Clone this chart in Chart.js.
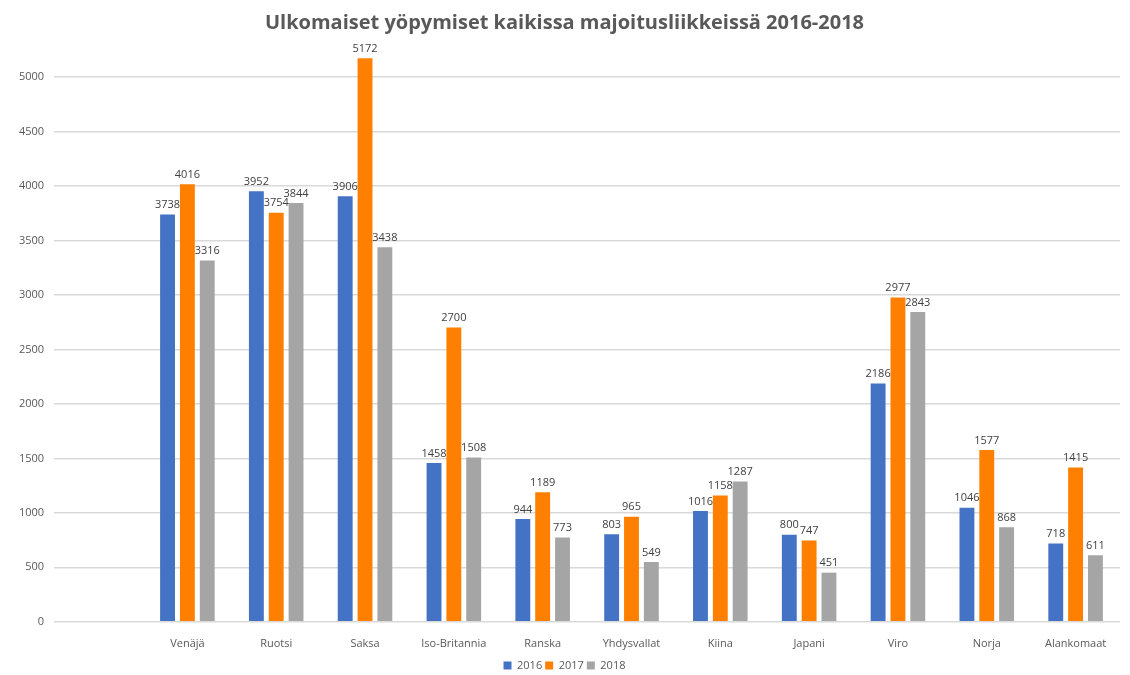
<!DOCTYPE html>
<html>
<head>
<meta charset="utf-8">
<script src="https://cdn.jsdelivr.net/npm/chart.js@4/dist/chart.umd.min.js"></script>
<style>
  html, body { margin: 0; padding: 0; background: #fff; }
  #wrap { width: 1130px; height: 675px; }
</style>
</head>
<body>
<div id="wrap"><canvas id="yopymisetChart"></canvas></div>
<script>
// maat (ensimmäinen sarake jää tyhjäksi kuten alkuperäisessä)
const countries = ['Venäjä', 'Ruotsi', 'Saksa', 'Iso-Britannia', 'Ranska', 'Yhdysvallat', 'Kiina', 'Japani', 'Viro', 'Norja', 'Alankomaat'];
const years = ['2016', '2017', '2018'];
const values2016 = [3738, 3952, 3906, 1458, 944, 803, 1016, 800, 2186, 1046, 718];
const values2017 = [4016, 3754, 5172, 2700, 1189, 965, 1158, 747, 2977, 1577, 1415];
const values2018 = [3316, 3844, 3438, 1508, 773, 549, 1287, 451, 2843, 868, 611];
const yTicks = [0, 500, 1000, 1500, 2000, 2500, 3000, 3500, 4000, 4500, 5000];

const blueColor = '#4472C4';
const orangeColor = '#FF7F00';
const grayColor = '#A5A5A5';
const textColor = '#595959';
const gridColor = '#d9d9d9';
const fontFamily = "'Open Sans', 'Noto Sans', sans-serif";

// arvot palkkien päälle
const valueLabels = {
  id: 'valueLabels',
  afterDatasetsDraw(chart) {
    const ctx = chart.ctx;
    ctx.save();
    ctx.font = '11px ' + fontFamily;
    ctx.fillStyle = '#404040';
    ctx.textAlign = 'center';
    ctx.textBaseline = 'bottom';
    chart.data.datasets.forEach((ds, i) => {
      const meta = chart.getDatasetMeta(i);
      meta.data.forEach((bar, j) => {
        const v = ds.data[j];
        if (v == null) return;
        ctx.fillText(String(v), bar.x, bar.y - 4);
      });
    });
    ctx.restore();
  }
};

const labels = [''].concat(countries);
const series = [values2016, values2017, values2018];
const colors = [blueColor, orangeColor, grayColor];

const ctx = document.getElementById('yopymisetChart');
new Chart(ctx, {
  type: 'bar',
  data: {
    labels: labels,
    datasets: years.map((y, i) => ({
      label: y,
      data: [null].concat(series[i]),
      backgroundColor: colors[i],
      borderWidth: 0,
      categoryPercentage: 0.67,
      barPercentage: 0.75,
      clip: false
    }))
  },
  options: {
    responsive: true,
    maintainAspectRatio: false,
    animation: false,
    layout: {
      padding: { top: 0, left: 9, right: 10, bottom: -6 }
    },
    plugins: {
      title: {
        display: true,
        text: 'Ulkomaiset yöpymiset kaikissa majoitusliikkeissä 2016-2018',
        color: textColor,
        font: { family: fontFamily, size: 20, weight: 'bold' },
        padding: { top: 11, bottom: 42 }
      },
      legend: {
        position: 'bottom',
        labels: {
          color: textColor,
          font: { family: fontFamily, size: 11 },
          boxWidth: 8,
          boxHeight: 8,
          padding: 3
        }
      },
      tooltip: { enabled: false }
    },
    scales: {
      x: {
        grid: { display: false },
        border: { display: false },
        ticks: {
          color: textColor,
          font: { family: fontFamily, size: 11 },
          padding: 7
        }
      },
      y: {
        min: 0,
        max: 5000,
        afterBuildTicks: (axis) => { axis.ticks = yTicks.map(v => ({ value: v })); },
        grid: { color: gridColor, lineWidth: 1.5, drawTicks: false },
        border: { display: false },
        ticks: {
          color: textColor,
          font: { family: fontFamily, size: 11 },
          padding: 10,
          callback: (v) => String(v)
        }
      }
    }
  },
  plugins: [valueLabels]
});
</script>
</body>
</html>
